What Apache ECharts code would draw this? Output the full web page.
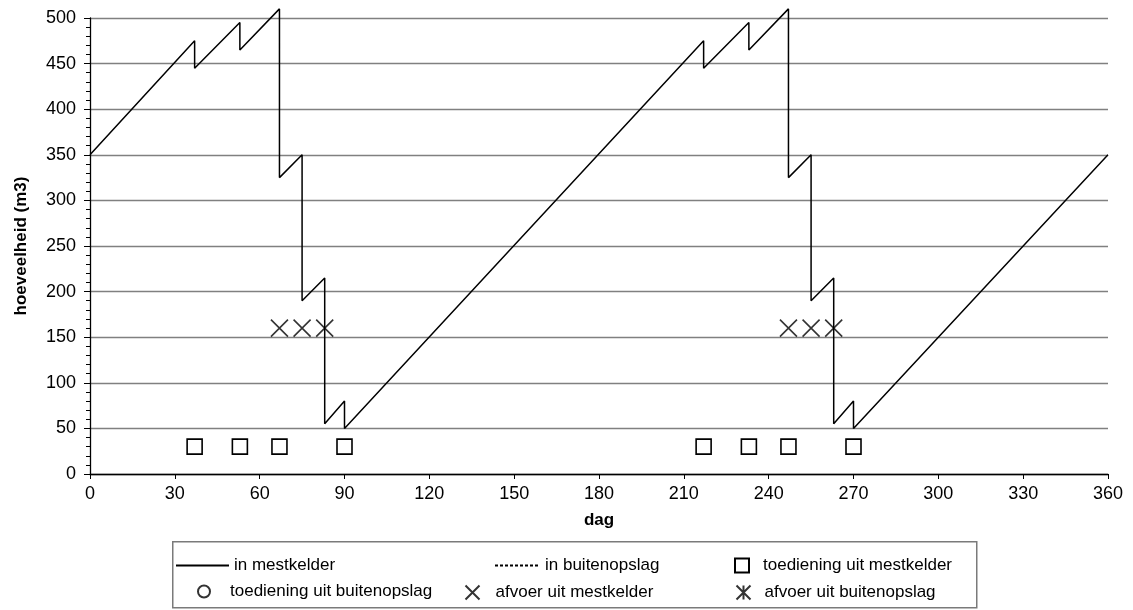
<!DOCTYPE html>
<html>
<head>
<meta charset="utf-8">
<script src="https://cdn.jsdelivr.net/npm/echarts@6/dist/echarts.min.js"></script>
<style>
html,body{margin:0;padding:0;background:#fff;}
#chart{width:1133px;height:610px;}
</style>
</head>
<body>
<div id="chart"></div>
<script>
// ---- data ----
const seriesNames = ['in mestkelder','in buitenopslag','toediening uit mestkelder','toediening uit buitenopslag','afvoer uit mestkelder','afvoer uit buitenopslag'];
const mestkelderDays   = [0,37,37,53,53,67,67,75,75,83,83,90,90,217,217,233,233,247,247,255,255,263,263,270,270,360];
const mestkelderValues = [350,475,445,495,465,510,325,350,190,215,55,80,50,475,445,495,465,510,325,350,190,215,55,80,50,350];
const toedieningDays   = [37,53,67,90,217,233,247,270];
const toedieningValues = [30,30,30,30,30,30,30,30];
const afvoerDays       = [67,75,83,247,255,263];
const afvoerValues     = [160,160,160,160,160,160];
const xTicks = {min:0, max:360, interval:30};
const yTicks = {min:0, max:500, interval:50};
const xTitle = 'dag';
const yTitle = 'hoeveelheid (m3)';

const pairs = (xs, ys) => xs.map((x,i)=>[x, ys[i]]);

const FONT = '"Liberation Sans", Arial, sans-serif';
const crossPath = 'path://M0,0L10,10M10,0L0,10';
const starPath = 'path://M0,0L10,10M10,0L0,10M5,0L5,10';

const chart = echarts.init(document.getElementById('chart'), null, {renderer:'canvas'});

function legendOf(name, left, top, itemWidth, itemHeight, padLeft, isLine){
  const l = {
    data:[name], left:left, top:top, orient:'horizontal', padding:0,
    itemWidth:itemWidth, itemHeight:itemHeight, selectedMode:false,
    textStyle:{fontFamily:FONT, fontSize:17, color:'#000', lineHeight:17, padding:[0,0,0,padLeft]}
  };
  if (isLine) l.itemStyle = {opacity:0};
  return l;
}

const option = {
  animation:false,
  backgroundColor:'#fff',
  grid:{left:90, right:25, top:18, bottom:136, containLabel:false},
  xAxis:{
    type:'value', min:xTicks.min, max:xTicks.max, interval:xTicks.interval,
    name:xTitle, nameLocation:'middle', nameGap:38,
    nameTextStyle:{fontFamily:FONT, fontSize:17, fontWeight:'bold', color:'#000'},
    axisLine:{show:true, onZero:false, lineStyle:{color:'#000', width:1.3}},
    axisTick:{show:true, length:5, inside:false, lineStyle:{color:'#000', width:1}},
    axisLabel:{fontFamily:FONT, fontSize:18, color:'#000', margin:11},
    splitLine:{show:false}
  },
  yAxis:{
    type:'value', min:yTicks.min, max:yTicks.max, interval:yTicks.interval,
    name:yTitle, nameLocation:'middle', nameGap:60, nameRotate:90,
    nameTextStyle:{fontFamily:FONT, fontSize:17, fontWeight:'bold', color:'#000'},
    axisLine:{show:true, lineStyle:{color:'#000', width:1.3}},
    axisTick:{show:true, length:6, inside:false, lineStyle:{color:'#000', width:1}},
    minorTick:{show:true, splitNumber:5, length:4, lineStyle:{color:'#000', width:1}},
    axisLabel:{fontFamily:FONT, fontSize:18, color:'#000', margin:14},
    splitLine:{show:true, lineStyle:{color:'#808080', width:1.3}}
  },
  legend:[
    legendOf(seriesNames[0], 175, 557, 53, 14, 0, true),
    legendOf(seriesNames[1], 494, 557, 45, 14, 0, true),
    legendOf(seriesNames[2], 734, 557, 14, 14, 9, false),
    legendOf(seriesNames[3], 197, 583, 12, 12, 15, false),
    legendOf(seriesNames[4], 463, 583, 14, 14, 11, false),
    legendOf(seriesNames[5], 734, 583, 14, 14, 9, false)
  ],
  graphic:[{
    type:'rect', left:172, top:541, z:-1,
    shape:{width:804, height:66},
    style:{fill:'#fff', stroke:'#7a7a7a', lineWidth:1.5}
  }],
  series:[
    {name:seriesNames[0], type:'line', data:pairs(mestkelderDays, mestkelderValues),
     symbol:'none', clip:false, z:3,
     lineStyle:{color:'#000', width:1.5}, itemStyle:{color:'#000'}},
    {name:seriesNames[1], type:'line', data:[], symbol:'none',
     lineStyle:{color:'#000', width:1, type:[3,2]}, itemStyle:{color:'#000'}},
    {name:seriesNames[2], type:'scatter', data:pairs(toedieningDays, toedieningValues),
     symbol:'rect', symbolSize:15, z:4,
     itemStyle:{color:'#fff', borderColor:'#000', borderWidth:1.6, opacity:1}},
    {name:seriesNames[3], type:'scatter', data:[], symbol:'circle', symbolSize:11,
     itemStyle:{color:'#fff', borderColor:'#000', borderWidth:1.5}},
    {name:seriesNames[4], type:'scatter', data:pairs(afvoerDays, afvoerValues),
     symbol:crossPath, symbolSize:17, z:4,
     itemStyle:{color:'none', borderColor:'#000', borderWidth:1.6}},
    {name:seriesNames[5], type:'scatter', data:[], symbol:starPath, symbolSize:14,
     itemStyle:{color:'none', borderColor:'#000', borderWidth:1.5}}
  ]
};
chart.setOption(option);
</script>
</body>
</html>
